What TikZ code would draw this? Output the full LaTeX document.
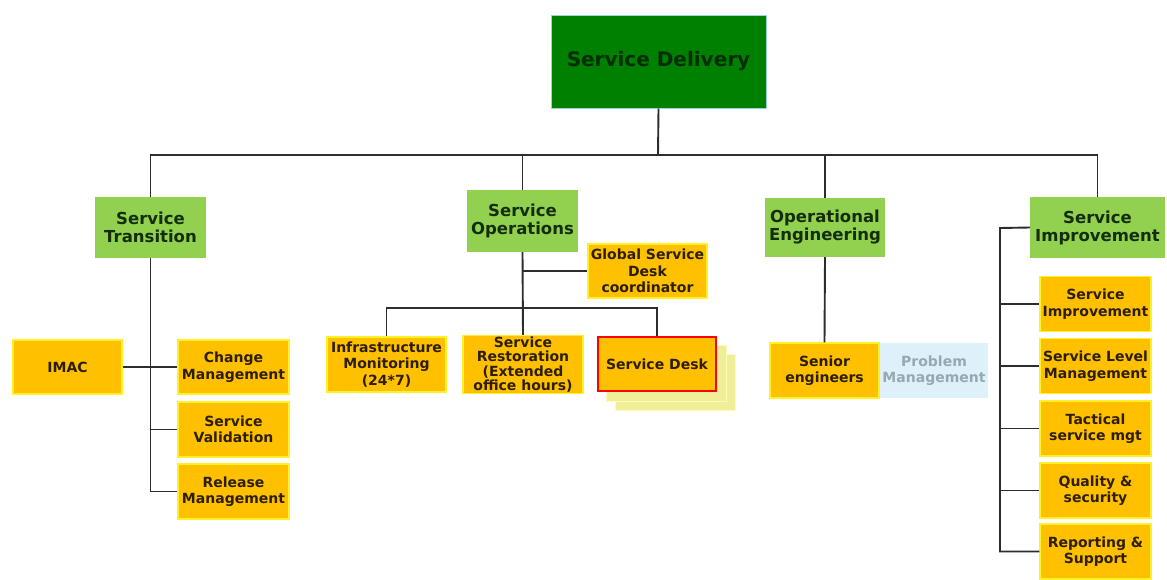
\documentclass[tikz,border=0pt]{standalone}
\usepackage{fontspec}
\setmainfont{DejaVu Sans}

\definecolor{sdgreen}{RGB}{0,128,0}
\definecolor{sdedge}{RGB}{160,210,220}
\definecolor{sdtext}{RGB}{0,45,0}
\definecolor{hdgreen}{RGB}{146,208,80}
\definecolor{hdtext}{RGB}{20,45,10}
\definecolor{orbox}{RGB}{255,192,0}
\definecolor{oredge}{RGB}{255,240,40}
\definecolor{ortext}{RGB}{45,30,0}
\definecolor{pmfill}{RGB}{222,240,250}
\definecolor{pmtext}{RGB}{150,168,178}
\definecolor{shadowyel}{RGB}{240,238,150}
\definecolor{linkgray}{RGB}{45,45,45}

\tikzset{
  topbox/.style={draw=sdedge, fill=sdgreen, line width=1pt, text=sdtext,
    minimum width=215pt, minimum height=93pt, font=\fontsize{20}{24}\selectfont\bfseries},
  headbox/.style={fill=hdgreen, text=hdtext, minimum height=61pt, inner sep=1pt,
    align=center, font=\fontsize{16.5}{18}\selectfont\bfseries},
  subbox/.style={draw=oredge, fill=orbox, line width=1.2pt, text=ortext, minimum width=111pt,
    minimum height=55pt, inner sep=1pt, align=center, font=\fontsize{14}{16.5}\selectfont\bfseries},
  shadowbox/.style={draw=white!70!oredge, fill=shadowyel, line width=1pt},
  link/.style={draw=linkgray, line width=1.9pt}
}

\begin{document}
\begin{tikzpicture}[x=1pt,y=1pt,yscale=-1]
\useasboundingbox (0,0) rectangle (1167,579);

% top of the chart
\node[topbox] (SD) at (658.5,61.5) {Service Delivery};

% departments
\node[headbox, minimum width=111pt] (ST) at (150.5,227.5) {Service\\Transition};
\node[headbox, minimum width=111pt, minimum height=62pt] (SO) at (522.5,221) {Service\\Operations};
\node[headbox, minimum width=120pt, minimum height=59pt] (OE) at (825,227.5) {Operational\\Engineering};
\node[headbox, minimum width=135pt] (SImp) at (1097.5,227.5) {Service\\Improvement};

% service transition
\node[subbox, minimum width=109pt, minimum height=54pt] (IMAC) at (67.5,367) {IMAC};
\node[subbox, minimum height=54pt] (CM) at (233.5,367) {Change\\Management};
\node[subbox] (SV) at (233.5,429.5) {Service\\Validation};
\node[subbox] (RM) at (233.5,491.5) {Release\\Management};

% service operations
\node[subbox, minimum width=119pt, minimum height=54pt] (GSD) at (647.5,271) {Global Service\\Desk\\coordinator};
\node[subbox, minimum width=119pt] (IM) at (386.5,364.5) {Infrastructure\\Monitoring\\(24*7)};
\node[subbox, minimum width=120pt, font=\fontsize{14}{14.5}\selectfont\bfseries] (SR) at (523,364.5) {Service\\Restoration\\(Extended\\office hours)};
\foreach \o in {18,9}
  \draw[shadowbox] (597+\o,336+\o) rectangle (717+\o,392+\o);
\node[subbox, draw=red, line width=2.6pt, minimum width=118pt, minimum height=54pt] (SDesk) at (657,364) {Service Desk};

% operational engineering
\node[subbox, minimum width=109pt] (SE) at (824.5,370.5) {Senior\\engineers};
\node[subbox, draw=none, fill=pmfill, text=pmtext, minimum width=108pt] (PM) at (934,370.5) {Problem\\Management};

% service improvement
\node[subbox] (S1) at (1095.5,304) {Service\\Improvement};
\node[subbox] (S2) at (1095.5,366) {Service Level\\Management};
\node[subbox] (S3) at (1095.5,428.5) {Tactical\\service mgt};
\node[subbox] (S4) at (1095.5,490.5) {Quality \&\\security};
\node[subbox] (S5) at (1095.5,551.5) {Reporting \&\\Support};

% connectors
\coordinate (bus) at (658,155);
\draw[link] (SD.south) -- (bus);
\draw[link] (ST.north) |- (bus) -| (SImp.north);
\draw[link] (SO.north) -- (SO.north |- bus);
\draw[link] (OE.north) -- (OE.north |- bus);

\draw[link] (ST.south) -- (ST.south |- RM.west) -- (RM.west);
\draw[link] (IMAC.east) -- (CM.west);
\draw[link] (ST.south |- SV.west) -- (SV.west);

\coordinate (opbus) at (523,308);
\draw[link] (SO.south) -- (SR.north);
\draw[link] (SO.south |- GSD.west) -- (GSD.west);
\draw[link] (IM.north) |- (opbus) -| (SDesk.north);

\draw[link] (OE.south) -- (SE.north);

\coordinate (sibus) at (1000,228);
\draw[link] (SImp.west) -- (sibus) -- (sibus |- S5.west) -- (S5.west);
\foreach \n in {S1,S2,S3,S4}
  \draw[link] (sibus |- \n.west) -- (\n.west);

\end{tikzpicture}
\end{document}
